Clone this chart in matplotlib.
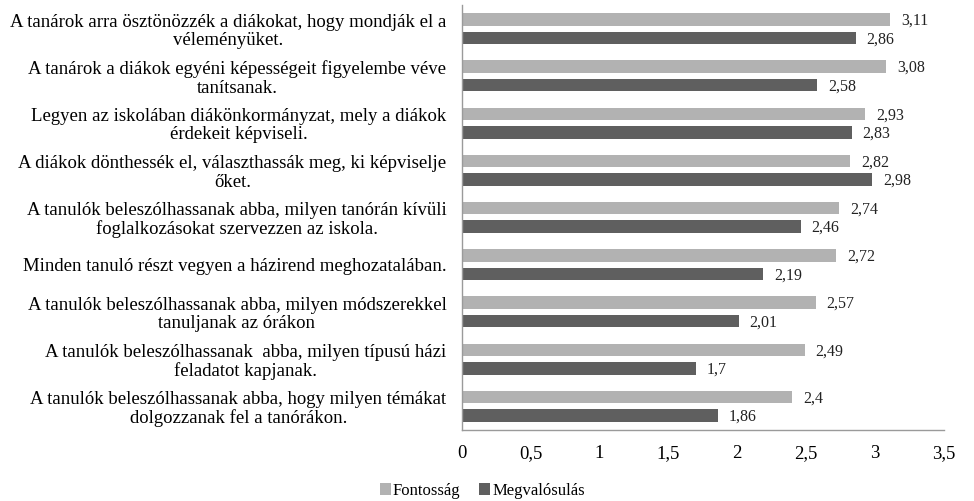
import numpy as np
import matplotlib
matplotlib.use("Agg")
import matplotlib.pyplot as plt

plt.rcParams['font.family'] = ['Liberation Serif', 'DejaVu Serif']

##############Data######################################################
categories = [
    "A tanárok arra ösztönözzék a diákokat, hogy mondják el a\nvéleményüket.",
    "A tanárok a diákok egyéni képességeit figyelembe véve\ntanítsanak.",
    "Legyen az iskolában diákönkormányzat, mely a diákok\nérdekeit képviseli.",
    "A diákok dönthessék el, választhassák meg, ki képviselje\nőket.",
    "A tanulók beleszólhassanak abba, milyen tanórán kívüli\nfoglalkozásokat szervezzen az iskola.",
    "Minden tanuló részt vegyen a házirend meghozatalában.",
    "A tanulók beleszólhassanak abba, milyen módszerekkel\ntanuljanak az órákon",
    "A tanulók beleszólhassanak  abba, milyen típusú házi\nfeladatot kapjanak.",
    "A tanulók beleszólhassanak abba, hogy milyen témákat\ndolgozzanak fel a tanórákon.",
]
fontossag = [3.11, 3.08, 2.93, 2.82, 2.74, 2.72, 2.57, 2.49, 2.4]
megvalosulas = [2.86, 2.58, 2.83, 2.98, 2.46, 2.19, 2.01, 1.7, 1.86]
series_names = ["Fontosság", "Megvalósulás"]
x_ticks = [0, 0.5, 1, 1.5, 2, 2.5, 3, 3.5]

##############Style#####################################################
light_col = "#b2b2b2"
dark_col = "#5f5f5f"
axis_col = "#9a9a9a"
bar_h = 0.265
offset = 0.196

##############Plot######################################################
fig = plt.figure(figsize=(9.74, 5.01), dpi=100)
ax = fig.add_axes([0.474, 0.142, 0.495, 0.848])

y = np.arange(len(categories))
ax.barh(y - offset, fontossag, height=bar_h, color=light_col, label=series_names[0])
ax.barh(y + offset, megvalosulas, height=bar_h, color=dark_col, label=series_names[1])

for i in range(len(categories)):
    ax.text(fontossag[i] + 0.08, y[i] - offset + 0.03, str(fontossag[i]).replace('.', ','),
            va='center', ha='left', fontsize=11.5, color='#222222')
    ax.text(megvalosulas[i] + 0.08, y[i] + offset + 0.03, str(megvalosulas[i]).replace('.', ','),
            va='center', ha='left', fontsize=11.5, color='#222222')

ax.set_ylim(len(categories) - 0.5, -0.5)
ax.set_xlim(0, 3.5)
ax.set_yticks(y)
ax.set_yticklabels(categories, fontsize=13.5, multialignment='center', linespacing=1.1)
ax.set_xticks(x_ticks)
ax.set_xticklabels([str(t).replace('.', ',') if t % 1 else str(int(t)) for t in x_ticks], fontsize=13.5)
ax.tick_params(axis='x', length=0, pad=11)
ax.tick_params(axis='y', length=0, pad=11)

for s in ['top', 'right']:
    ax.spines[s].set_visible(False)
for s in ['left', 'bottom']:
    ax.spines[s].set_color(axis_col)
    ax.spines[s].set_linewidth(1.0)

fig.legend(loc='lower center', bbox_to_anchor=(0.495, -0.025), ncol=2, frameon=False,
           fontsize=12, handlelength=0.7, handleheight=0.7, handletextpad=0.1,
           columnspacing=1.1)

plt.savefig("out.png", dpi=100)
